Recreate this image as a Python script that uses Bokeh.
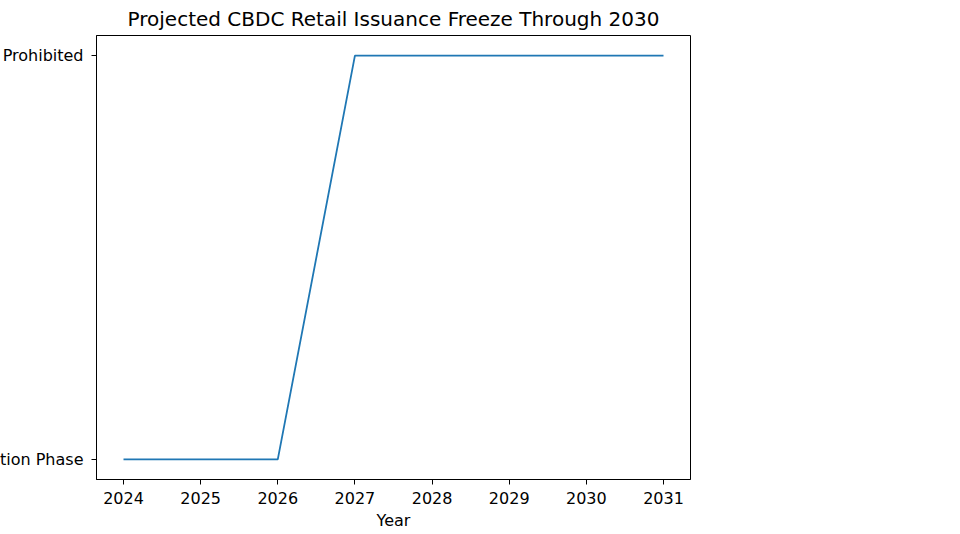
from bokeh.plotting import figure
from bokeh.models import Range1d, FixedTicker
from bokeh.embed import file_html
from bokeh.resources import INLINE

# ---- data ----
years = [2024, 2025, 2026, 2027, 2028, 2029, 2030, 2031]
status_levels = ["Investigation Phase", "Prohibited"]
status = ["Investigation Phase", "Investigation Phase", "Investigation Phase",
          "Prohibited", "Prohibited", "Prohibited", "Prohibited", "Prohibited"]
title_text = "Projected CBDC Retail Issuance Freeze Through 2030"
x_label = "Year"

y_vals = [status_levels.index(s) for s in status]

FONT = "DejaVu Sans"

p = figure(frame_width=594, frame_height=444, output_backend="svg", toolbar_location=None,
           x_range=Range1d(2023.65, 2031.35), y_range=Range1d(-0.05, 1.05),
           min_border_left=10, min_border_right=40, min_border_top=0, min_border_bottom=0)

p.line(years, y_vals, line_color="#1f77b4", line_width=1.8)

p.title.text = title_text
p.title.align = "center"
p.title.text_font = FONT
p.title.text_font_size = "20px"
p.title.text_font_style = "normal"
p.title.text_color = "black"
p.title.standoff = 9

p.xgrid.visible = False
p.ygrid.visible = False
p.outline_line_color = "black"
p.outline_line_width = 1
p.outline_line_alpha = 1

p.xaxis.ticker = FixedTicker(ticks=years)
p.yaxis.ticker = FixedTicker(ticks=list(range(len(status_levels))))
p.yaxis.major_label_overrides = {i: s for i, s in enumerate(status_levels)}
p.xaxis.axis_label = x_label

for ax in (p.xaxis[0], p.yaxis[0]):
    ax.axis_line_color = "black"
    ax.axis_line_width = 1
    ax.major_tick_line_color = "black"
    ax.major_tick_in = 0
    ax.major_tick_out = 5
    ax.minor_tick_line_color = None
    ax.major_label_text_font = FONT
    ax.major_label_text_font_size = "16px"
    ax.major_label_text_color = "black"
    ax.major_label_standoff = 7
    ax.axis_label_text_font = FONT
    ax.axis_label_text_font_size = "16px"
    ax.axis_label_text_font_style = "normal"
    ax.axis_label_text_color = "black"
    ax.axis_label_standoff = 4

p.yaxis[0].major_label_standoff = 8
p.styles = {"margin-left": "-77px", "margin-bottom": "-30px"}

open("out.html", "w").write(file_html(p, INLINE))
